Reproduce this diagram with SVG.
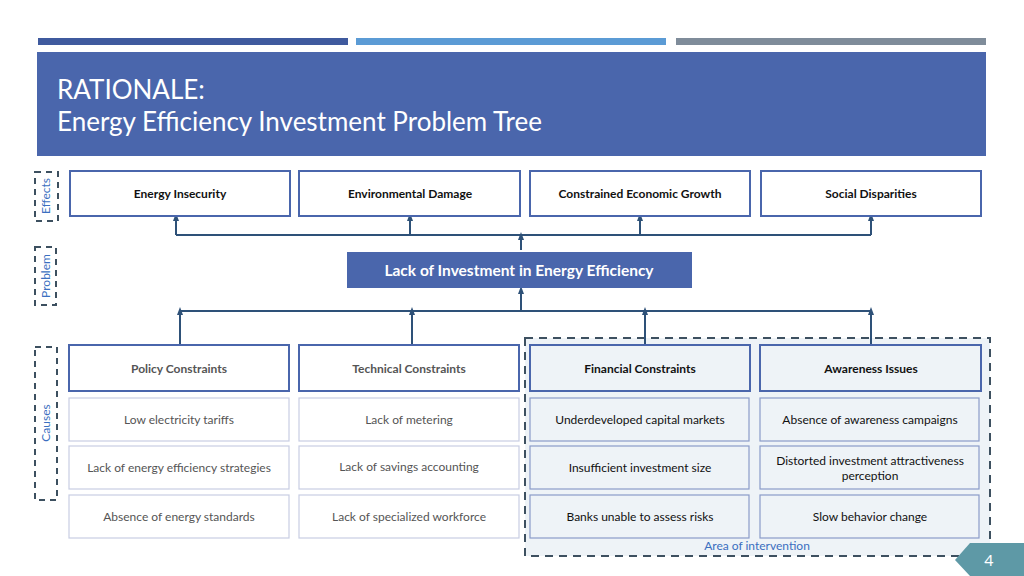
<svg xmlns="http://www.w3.org/2000/svg" width="1024" height="576" viewBox="0 0 1024 576">
<defs>
<marker id="ah" markerWidth="8" markerHeight="8" refX="4" refY="4" orient="auto" markerUnits="userSpaceOnUse"><path d="M0,1 L8,4 L0,7 z" fill="#2e5178"/></marker>
<style>
text{font-family:"Gill Sans","Lato","Liberation Sans",sans-serif;}
.eff{fill:#fff;stroke:#4a66ac;stroke-width:2}
.cat{fill:#fff;stroke:#4a66ac;stroke-width:2}
.catr{fill:#eef3f7;stroke:#4a66ac;stroke-width:2}
.sub{fill:#fff;stroke:#c8cde3;stroke-width:1.2}
.subr{fill:#eef3f7;stroke:#8a9cc8;stroke-width:1.2}
.b{font-size:12px;font-weight:bold;fill:#111;text-anchor:middle}
.bg{font-size:12px;font-weight:bold;fill:#555;text-anchor:middle}
.s{font-size:12px;fill:#555;text-anchor:middle}
.sr{font-size:12px;fill:#111;text-anchor:middle}
.lbl{fill:none;stroke:#3d5060;stroke-width:2;stroke-dasharray:6,5}
.lt{font-size:12px;fill:#3b6fc0;text-anchor:middle}
.c{fill:none;stroke:#2e5178;stroke-width:2}
</style>
</defs>
<rect width="1024" height="576" fill="#fff"/>
<rect x="38" y="38" width="310" height="7" fill="#3f5a9e"/>
<rect x="356" y="38" width="310" height="7" fill="#5b9bd5"/>
<rect x="676" y="38" width="310" height="7" fill="#7f8c9a"/>
<rect x="37" y="52" width="949" height="104" fill="#4a66ac"/>
<text x="57" y="99" font-size="26" fill="#fff">RATIONALE:</text>
<text x="57" y="131" font-size="26" fill="#fff">Energy Efficiency Investment Problem Tree</text>

<g id="label-effects"><rect class="lbl" x="35" y="172" width="23" height="49"/><text class="lt" transform="translate(50,196) rotate(-90)">Effects</text></g>
<g id="label-problem"><rect class="lbl" x="35" y="247" width="21" height="58"/><text class="lt" transform="translate(50,276) rotate(-90)">Problem</text></g>
<g id="label-causes"><rect class="lbl" x="35" y="347" width="22" height="153"/><text class="lt" transform="translate(50,423) rotate(-90)">Causes</text></g>
<g id="intervention"><rect x="525" y="338" width="465" height="218" fill="#eef3f7" stroke="#3d5060" stroke-width="2" stroke-dasharray="8,6"/><text class="lt" x="757" y="550">Area of intervention</text></g>

<g id="connectors">
<path class="c" d="M176,235 H871"/>
<path class="c" d="M176,235 V217" marker-end="url(#ah)"/>
<path class="c" d="M410,235 V217" marker-end="url(#ah)"/>
<path class="c" d="M640,235 V217" marker-end="url(#ah)"/>
<path class="c" d="M871,235 V217" marker-end="url(#ah)"/>
<path class="c" d="M521,250 V236" marker-end="url(#ah)"/>
<path class="c" d="M180,311 H871"/>
<path class="c" d="M180,345 V311" marker-end="url(#ah)"/>
<path class="c" d="M412,345 V311" marker-end="url(#ah)"/>
<path class="c" d="M645,345 V311" marker-end="url(#ah)"/>
<path class="c" d="M871,345 V311" marker-end="url(#ah)"/>
<path class="c" d="M521,311 V290" marker-end="url(#ah)"/>
</g>

<g id="e1"><rect class="eff" x="70" y="171" width="220" height="45"/><text class="b" x="180" y="198">Energy Insecurity</text></g>
<g id="e2"><rect class="eff" x="299" y="171" width="221" height="45"/><text class="b" x="410" y="198">Environmental Damage</text></g>
<g id="e3"><rect class="eff" x="530" y="171" width="220" height="45"/><text class="b" x="640" y="198">Constrained Economic Growth</text></g>
<g id="e4"><rect class="eff" x="761" y="171" width="220" height="45"/><text class="b" x="871" y="198">Social Disparities</text></g>

<g id="problem"><rect x="347" y="252" width="345" height="36" fill="#4a66ac"/><text x="519" y="276" font-size="15.5" font-weight="bold" fill="#fff" text-anchor="middle">Lack of Investment in Energy Efficiency</text></g>

<g id="c1"><rect class="cat" x="69" y="345" width="220" height="46"/><text class="bg" x="179" y="373">Policy  Constraints</text></g>
<g id="c2"><rect class="cat" x="299" y="345" width="220" height="46"/><text class="bg" x="409" y="373">Technical Constraints</text></g>
<g id="c3"><rect class="catr" x="530" y="345" width="220" height="46"/><text class="b" x="640" y="373">Financial Constraints</text></g>
<g id="c4"><rect class="catr" x="760" y="345" width="221" height="46"/><text class="b" x="871" y="373">Awareness Issues</text></g>

<g id="s11"><rect class="sub" x="69" y="398" width="220" height="43"/><text class="s" x="179" y="424">Low electricity tariffs</text></g>
<g id="s12"><rect class="sub" x="69" y="446" width="220" height="43"/><text class="s" x="179" y="472">Lack of energy efficiency strategies</text></g>
<g id="s13"><rect class="sub" x="69" y="495" width="220" height="43"/><text class="s" x="179" y="521">Absence of energy standards</text></g>
<g id="s21"><rect class="sub" x="299" y="398" width="220" height="43"/><text class="s" x="409" y="424">Lack of metering</text></g>
<g id="s22"><rect class="sub" x="299" y="446" width="220" height="43"/><text class="s" x="409" y="471">Lack of savings accounting</text></g>
<g id="s23"><rect class="sub" x="299" y="495" width="220" height="43"/><text class="s" x="409" y="521">Lack of specialized workforce</text></g>
<g id="s31"><rect class="subr" x="530" y="398" width="219" height="43"/><text class="sr" x="640" y="424">Underdeveloped capital markets</text></g>
<g id="s32"><rect class="subr" x="530" y="446" width="219" height="43"/><text class="sr" x="640" y="472">Insufficient investment size</text></g>
<g id="s33"><rect class="subr" x="530" y="495" width="219" height="43"/><text class="sr" x="640" y="521">Banks unable to assess risks</text></g>
<g id="s41"><rect class="subr" x="760" y="398" width="219" height="43"/><text class="sr" x="870" y="424">Absence of awareness campaigns</text></g>
<g id="s42"><rect class="subr" x="760" y="446" width="219" height="43"/><text class="sr" x="870" y="465">Distorted investment attractiveness</text><text class="sr" x="870" y="480">perception</text></g>
<g id="s43"><rect class="subr" x="760" y="495" width="219" height="43"/><text class="sr" x="870" y="521">Slow behavior change</text></g>

<polygon points="970,543 1024,543 1024,576 970,576 955,560" fill="#5e99a6"/>
<text x="989" y="566" font-size="16" fill="#fff" text-anchor="middle">4</text>
</svg>
